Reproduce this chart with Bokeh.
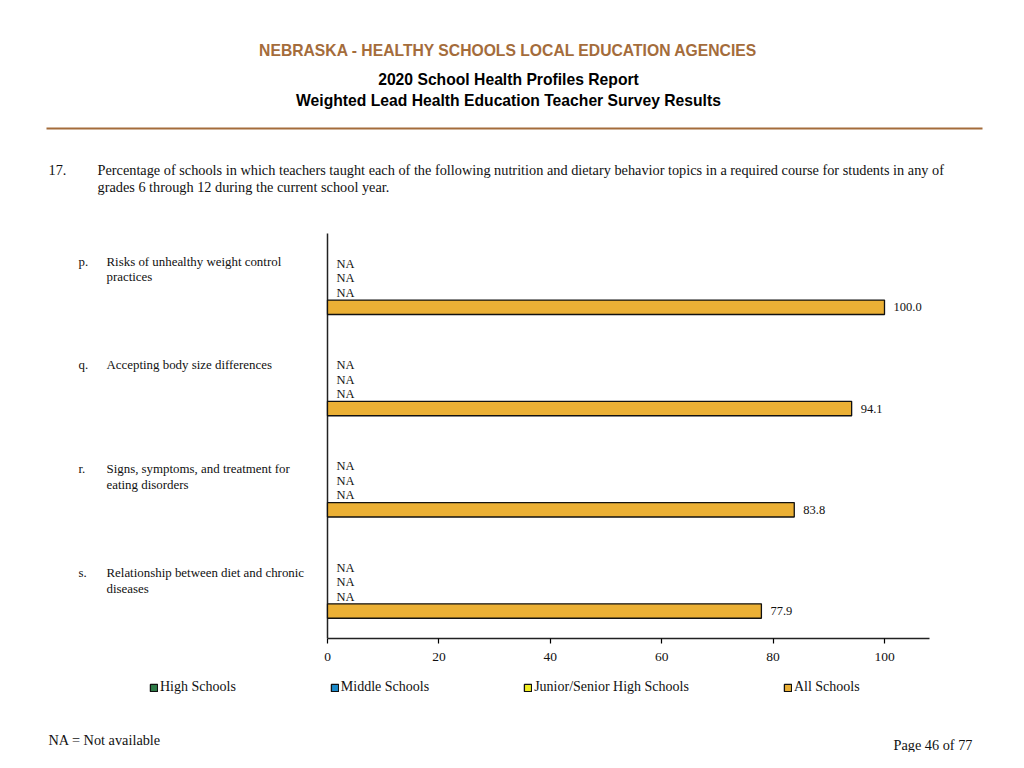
from bokeh.plotting import figure
from bokeh.layouts import column
from bokeh.models import Range1d, FixedTicker, Legend, LegendItem, ColumnDataSource
from bokeh.core.properties import value
from bokeh.embed import file_html
from bokeh.resources import INLINE

# ---------------- data ----------------
header_title = "NEBRASKA - HEALTHY SCHOOLS LOCAL EDUCATION AGENCIES"
report_title = "2020 School Health Profiles Report"
survey_title = "Weighted Lead Health Education Teacher Survey Results"
question_number = "17."
question_lines = [
    "Percentage of schools in which teachers taught each of the following nutrition and dietary behavior topics in a required course for students in any of",
    "grades 6 through 12 during the current school year.",
]
topic_letters = ["p.", "q.", "r.", "s."]
topic_lines = [
    ["Risks of unhealthy weight control", "practices"],
    ["Accepting body size differences"],
    ["Signs, symptoms, and treatment for", "eating disorders"],
    ["Relationship between diet and chronic", "diseases"],
]
series_names = ["High Schools", "Middle Schools", "Junior/Senior High Schools", "All Schools"]
high_schools = [None, None, None, None]
middle_schools = [None, None, None, None]
junior_senior_high_schools = [None, None, None, None]
all_schools = [100.0, 94.1, 83.8, 77.9]
x_ticks = [0, 20, 40, 60, 80, 100]
footnote = "NA = Not available"
page_label = "Page 46 of 77"

series_values = [high_schools, middle_schools, junior_senior_high_schools, all_schools]
series_colors = ["#2E7B47", "#1C8AC9", "#F2EE22", "#EBB035"]

# ---------------- layout constants (pixels) ----------------
W = 1008
AXIS_Y = 638         # page y of the x axis line
AXIS_PANEL = 30      # space under the axis line for ticks and labels
TOP_H = AXIS_Y + AXIS_PANEL
BOT_H = 752 - TOP_H  # legend + footer figure
ZERO_X = 327         # page x of value 0
PX_PER_PCT = 5.57
AXIS_END = 108.0
PLOT_TOP = 233       # page y where the bar area begins
SLOT = 14.464        # pixels per bar slot
N_SLOTS = 28
SLOTS_PER_GROUP = 7
FIRST_SLOT = 2.1
LABEL_TOP = 261      # page y of the first topic label line
LABEL_STEP = 103.9   # page pixels between topic labels
LABEL_LINE = 15.5    # page pixels between wrapped label lines

SERIF = "Liberation Serif"
SANS = "Liberation Sans"


def dx(page_x):
    return (page_x - ZERO_X) / PX_PER_PCT


def dy(page_y):
    return (page_y - PLOT_TOP) / SLOT


p = figure(width=W, height=TOP_H, output_backend="svg", toolbar_location=None,
           x_range=Range1d(dx(0), dx(W)), y_range=Range1d(dy(AXIS_Y), dy(0)),
           y_axis_location=None,
           min_border_left=0, min_border_right=0, min_border_top=0,
           min_border_bottom=AXIS_PANEL)
p.outline_line_color = None
p.grid.grid_line_color = None

# x axis
xa = p.xaxis[0]
xa.bounds = (0, AXIS_END)
xa.ticker = FixedTicker(ticks=x_ticks)
xa.minor_tick_line_color = None
xa.major_tick_in = 0
xa.major_tick_out = 5
xa.axis_line_width = 1.5
xa.major_tick_line_width = 1.2
xa.axis_line_color = "#222222"
xa.major_label_text_font = SERIF
xa.major_label_text_font_size = "13.5px"
xa.major_label_text_color = "#111111"
xa.major_label_standoff = 9

# vertical axis line of the bar area
p.segment(x0=[0], y0=[0], x1=[0], y1=[N_SLOTS], line_color="#222222", line_width=1.5)


def add_text(fig, x, y, t, font=SERIF, size="13px", align="left", style="normal",
             color="#111111"):
    fig.text(x=[x], y=[y], text=[t], text_font=value(font), text_font_size=size,
             text_align=align, text_baseline="middle", text_font_style=style,
             text_color=color)


# legend + footer figure (page coordinates)
f = figure(width=W, height=BOT_H, output_backend="svg", toolbar_location=None,
           x_range=Range1d(0, W), y_range=Range1d(752, TOP_H),
           x_axis_location=None, y_axis_location=None,
           min_border_left=0, min_border_right=0, min_border_top=0, min_border_bottom=0)
f.outline_line_color = None
f.grid.grid_line_color = None

# bars
legend_items = []
for k, (name, vals, col) in enumerate(zip(series_names, series_values, series_colors)):
    ys = [g * SLOTS_PER_GROUP + FIRST_SLOT + k for g in range(len(vals))]
    rights = [float("nan") if v is None else v for v in vals]
    src = ColumnDataSource(dict(y=ys, right=rights))
    style = dict(fill_color=col, line_color="#111111", line_width=1.3)
    p.hbar(y="y", left=0, right="right", height=1.0, source=src, **style)
    # legend key for this series in the legend strip: a hidden proxy renderer
    r = f.hbar(y=[0], left=[-50], right=[-50], height=0, visible=False, **style)
    legend_items.append(LegendItem(label=name, renderers=[r], index=0))
    txt_x = [0 if v is None else v for v in vals]
    txt = ["NA" if v is None else f"{v:.1f}" for v in vals]
    tsrc = ColumnDataSource(dict(x=txt_x, y=ys, t=txt))
    p.text(x="x", y="y", text="t", source=tsrc, x_offset=9,
           text_font=value(SERIF), text_font_size="12.5px",
           text_baseline="middle", text_align="left", text_color="#111111")

# topic labels
for g, (letter, lines) in enumerate(zip(topic_letters, topic_lines)):
    y_page = LABEL_TOP + g * LABEL_STEP
    add_text(p, dx(78), dy(y_page), letter, size="12.9px")
    for i, line in enumerate(lines):
        add_text(p, dx(106), dy(y_page + i * LABEL_LINE), line, size="12.9px")

# headers
add_text(p, dx(508), dy(50), header_title, font=SANS, size="15.7px", align="center",
         style="bold", color="#A46C3B")
add_text(p, dx(508), dy(79), report_title, font=SANS, size="15.7px", align="center",
         style="bold", color="#000000")
add_text(p, dx(508), dy(100), survey_title, font=SANS, size="15.7px", align="center",
         style="bold", color="#000000")
p.segment(x0=[dx(46)], y0=[dy(128)], x1=[dx(982)], y1=[dy(128)],
          line_color="#A46C3B", line_width=2)

# question
add_text(p, dx(48), dy(169), question_number, size="14.3px")
for i, line in enumerate(question_lines):
    add_text(p, dx(97), dy(169 + 17 * i), line, size="14.3px")

legend = Legend(items=legend_items, orientation="horizontal", location=(149, 752 - 697),
                glyph_width=9, glyph_height=9, label_standoff=2, spacing=94,
                padding=0, margin=0, border_line_color=None, background_fill_alpha=0,
                inactive_fill_alpha=0,
                label_height=20, label_text_font=SERIF, label_text_font_size="14px",
                label_text_color="#111111")
f.add_layout(legend, "center")

add_text(f, 48, 739, footnote, size="14.3px")
add_text(f, 972, 744, page_label, size="14.3px", align="right")

layout = column(p, f, spacing=0)
open("out.html", "w").write(file_html(layout, INLINE))
